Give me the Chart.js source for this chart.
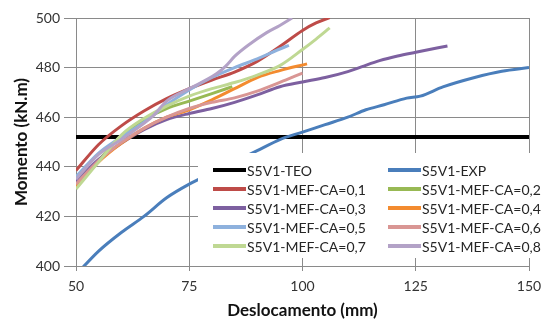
<!DOCTYPE html>
<html>
<head>
<meta charset="utf-8">
<script src="https://cdn.jsdelivr.net/npm/chart.js@4.4.1/dist/chart.umd.min.js"></script>
<style>
  html, body { margin: 0; padding: 0; background: #ffffff; }
  #wrap { width: 542px; height: 322px; position: relative; }
</style>
</head>
<body>
<div id="wrap"><canvas id="chart" width="542" height="322"></canvas></div>
<script>
// deslocamento (mm) / momento (kN.m) for each series
var teoX = [50, 150];
var teoY = [452, 452];

var expX = [50, 55, 60, 65, 70, 75, 80, 85, 90, 95, 100, 105, 110, 114, 118, 123, 126, 131, 138, 144, 150];
var expY = [396.5, 406, 413.5, 420, 427.5, 433, 437.5, 442, 446.5, 451, 454, 457, 460, 463, 465, 467.7, 468.5, 472.2, 476, 478.5, 480];

var ca01X = [50, 55, 60, 65, 70, 75, 80, 85, 90, 95, 100, 103, 106];
var ca01Y = [438.5, 449, 456.5, 462.5, 467.5, 471.5, 475, 478.2, 482.5, 488.5, 495, 498, 500.2];

var ca02X = [50, 55, 60, 65, 70, 75, 80, 84.5];
var ca02Y = [431.5, 442.5, 452.5, 459, 463.5, 466.5, 469.5, 472.3];

var ca03X = [50, 55, 60, 65, 70, 75, 80, 85, 90, 95, 100, 105, 110, 113, 117, 121, 125, 132];
var ca03Y = [434, 443, 449.5, 455, 459, 461.5, 463.5, 466, 469, 472.3, 474.2, 476, 478.4, 480.3, 482.8, 484.7, 486.2, 488.7];

var ca04X = [50, 55, 60, 65, 70, 75, 80, 85, 90, 95, 101];
var ca04Y = [432, 442, 449.5, 455.5, 460, 463, 467, 471.5, 476, 478.8, 481.5];

var ca05X = [50, 55, 60, 65, 70, 75, 80, 85, 90, 95, 97];
var ca05Y = [436, 445.5, 452, 458, 465, 471, 476, 480, 483.5, 487.5, 489];

var ca06X = [50, 55, 60, 65, 70, 75, 80, 85, 90, 95, 100];
var ca06Y = [433, 442.5, 449.8, 455.5, 460, 463.5, 466, 467.8, 470.5, 474, 477.8];

var ca07X = [50, 55, 60, 65, 70, 75, 80, 85, 90, 95, 100, 103, 106];
var ca07Y = [431, 442, 452.8, 459.5, 464.5, 468.5, 471.5, 474, 477, 480.8, 487.3, 491.5, 496];

var ca08X = [50, 55, 60, 65, 67, 70, 75, 81, 83, 85, 88, 92, 95, 97.7];
var ca08Y = [435, 445, 451, 457.5, 460.5, 466.5, 471.5, 477.5, 480.5, 484.5, 489, 494, 497, 500];

var seriesNames = ["S5V1-TEO", "S5V1-EXP", "S5V1-MEF-CA=0,1", "S5V1-MEF-CA=0,2", "S5V1-MEF-CA=0,3",
                   "S5V1-MEF-CA=0,4", "S5V1-MEF-CA=0,5", "S5V1-MEF-CA=0,6", "S5V1-MEF-CA=0,7", "S5V1-MEF-CA=0,8"];
var seriesX = [teoX, expX, ca01X, ca02X, ca03X, ca04X, ca05X, ca06X, ca07X, ca08X];
var seriesY = [teoY, expY, ca01Y, ca02Y, ca03Y, ca04Y, ca05Y, ca06Y, ca07Y, ca08Y];
var seriesColors = ["#000000", "#4A7EBB", "#BE4B48", "#98B954", "#7D60A0",
                    "#F38B2F", "#8EB1DD", "#D99694", "#BFD893", "#B3A2C7"];

var xTicks = [50, 75, 100, 125, 150];
var yTicks = [400, 420, 440, 460, 480, 500];

var fontFamily = "Lato, 'Liberation Sans', sans-serif";

function toPoints(xs, ys) {
  var pts = [];
  for (var i = 0; i < xs.length; i++) {
    pts.push({x: xs[i], y: ys[i]});
  }
  return pts;
}

var datasets = [];
for (var i = 0; i < seriesNames.length; i++) {
  datasets.push({
    label: seriesNames[i],
    data: toPoints(seriesX[i], seriesY[i]),
    borderColor: seriesColors[i],
    backgroundColor: seriesColors[i],
    borderWidth: i === 0 ? 4 : 3,
    pointRadius: 0,
    showLine: true,
    fill: false,
    cubicInterpolationMode: "monotone",
    order: -i   // later series drawn on top
  });
}

// legend box sitting inside the plot area, two columns
var boxLegend = {
  id: "boxLegend",
  afterDatasetsDraw: function (chart) {
    var ctx = chart.ctx;
    ctx.save();
    ctx.fillStyle = "#ffffff";
    ctx.fillRect(198, 153, 336, 105);
    ctx.font = "14px " + fontFamily;
    ctx.textBaseline = "middle";
    ctx.textAlign = "left";
    var cols = [213, 388];
    var ds = chart.data.datasets;
    for (var k = 0; k < ds.length; k++) {
      var x = cols[k % 2];
      var y = 170 + Math.floor(k / 2) * 19;
      ctx.strokeStyle = ds[k].borderColor;
      ctx.lineWidth = 4;
      ctx.beginPath();
      ctx.moveTo(x, y);
      ctx.lineTo(x + 33, y);
      ctx.stroke();
      ctx.fillStyle = "#262626";
      ctx.fillText(ds[k].label, x + 34, y + 1);
    }
    ctx.restore();
  }
};

var ctx = document.getElementById("chart").getContext("2d");
var chart = new Chart(ctx, {
  type: "scatter",
  data: { datasets: datasets },
  plugins: [boxLegend],
  options: {
    responsive: false,
    animation: false,
    layout: { autoPadding: false, padding: { left: 0, right: 13, top: 18, bottom: 0 } },
    plugins: {
      legend: { display: false },
      tooltip: { enabled: false }
    },
    scales: {
      x: {
        type: "linear",
        min: 50,
        max: 150,
        afterBuildTicks: function (scale) {
          scale.ticks = xTicks.map(function (v) { return {value: v}; });
        },
        afterFit: function (scale) {
          scale.height = 56;
          scale.paddingLeft = 0;
          scale.paddingRight = 0;
        },
        grid: { color: "#8a8a8a", lineWidth: 1, tickLength: 5 },
        border: { color: "#8a8a8a" },
        ticks: { color: "#333333", padding: 7, font: { family: fontFamily, size: 14 } },
        title: {
          display: true,
          text: "Deslocamento (mm)",
          color: "#111111",
          padding: { top: 0, bottom: 1 },
          font: { family: fontFamily, size: 17, weight: "bold" }
        }
      },
      y: {
        type: "linear",
        min: 400,
        max: 500,
        afterBuildTicks: function (scale) {
          scale.ticks = yTicks.map(function (v) { return {value: v}; });
        },
        afterFit: function (scale) {
          scale.width = 76;
          scale.paddingTop = 0;
          scale.paddingBottom = 0;
        },
        grid: { color: "#8a8a8a", lineWidth: 1, tickLength: 12 },
        border: { color: "#8a8a8a" },
        ticks: { color: "#333333", padding: 4, font: { family: fontFamily, size: 14 } },
        title: {
          display: true,
          text: "Momento (kN.m)",
          color: "#111111",
          padding: { top: 11, bottom: 0 },
          font: { family: fontFamily, size: 17, weight: "bold" }
        }
      }
    }
  }
});
</script>
</body>
</html>
